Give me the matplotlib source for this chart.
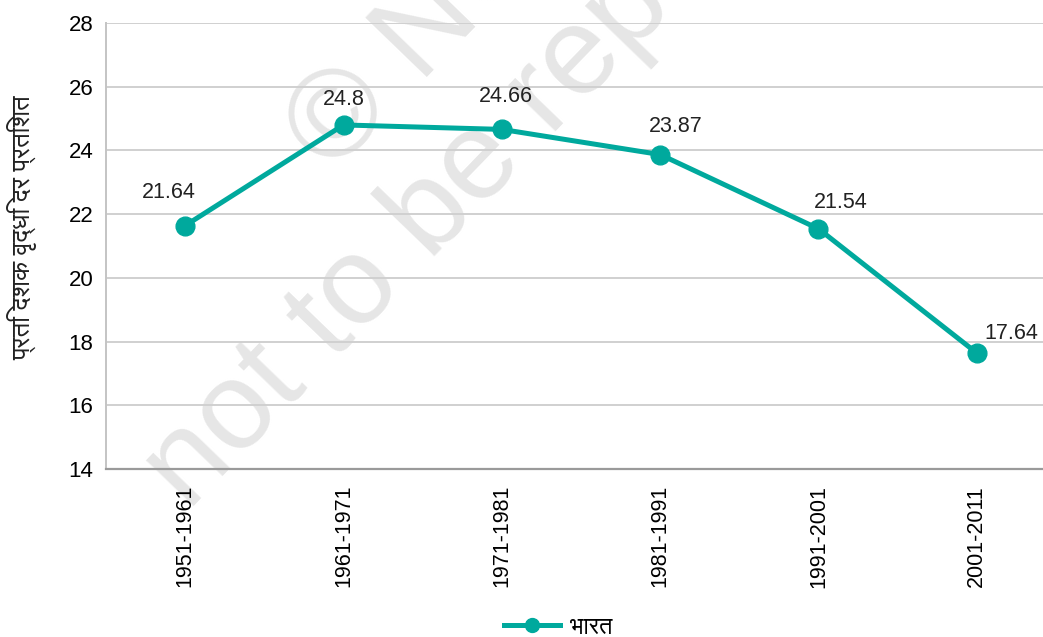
import os
import matplotlib
matplotlib.use("Agg")
import matplotlib.pyplot as plt
from matplotlib import font_manager
from matplotlib.font_manager import FontProperties
from matplotlib.lines import Line2D
from fontTools.ttLib import TTFont

# ---- data ----
periods = ["1951-1961", "1961-1971", "1971-1981", "1981-1991", "1991-2001", "2001-2011"]
growth = [21.64, 24.8, 24.66, 23.87, 21.54, 17.64]
y_ticks = [14, 16, 18, 20, 22, 24, 26, 28]
y_label = "प्रति दशक वृद्धि दर प्रतिशत"
series_name = "भारत"
watermark_1 = "© NCERT"
watermark_2 = "not to be republished"

# label offsets in points (dx, dy) -- style only
label_offsets = [(-12, 24), (0, 18), (3, 24), (11, 20), (16, 19), (25, 14)]

# ---- find a Devanagari font ----
deva = []
for f in font_manager.findSystemFonts():
    try:
        tt = TTFont(f, fontNumber=0, lazy=True)
        cmap = tt.getBestCmap()
        if cmap and 0x092A in cmap and 0x0943 in cmap:
            deva.append(f)
    except Exception:
        pass
prefs = ["FreeSans.ttf", "FreeSans.otf", "NotoSansDevanagari-Regular", "Hind-Regular",
         "Mukta-Regular", "Regular"]
deva_path = None
for p in prefs:
    for f in sorted(deva):
        if os.path.basename(f) == p or p in os.path.basename(f):
            deva_path = f
            break
    if deva_path:
        break
if deva_path is None and deva:
    deva_path = sorted(deva)[0]

plt.rcParams['font.family'] = ['Liberation Sans', 'DejaVu Sans']
teal = "#00a99d"
fs = 15.5

fig = plt.figure(figsize=(10.43, 6.37), dpi=100)

# watermark (behind everything)
for txt, x, y in [(watermark_1, 332 / 1043, 1 - 175 / 637), (watermark_2, 188 / 1043, 1 - 512 / 637)]:
    fig.text(x, y, txt, fontsize=90, color="#e6e6e6", rotation=46,
             rotation_mode="anchor", ha="left", va="baseline", zorder=-5,
             family=['Liberation Sans', 'DejaVu Sans'])

ax = fig.add_axes([106 / 1043, 1 - 469 / 637, 950 / 1043, 446 / 637])
ax.set_zorder(1)
ax.set_facecolor("none")
x = list(range(len(periods)))
ax.plot(x, growth, color=teal, lw=3.6, marker="o", ms=13.5, mec=teal, mfc=teal,
        solid_capstyle="round", zorder=3, clip_on=False)
ax.set_xlim(-0.5, 5.5)
ax.set_ylim(14, 28)
ax.set_yticks(y_ticks)
ax.set_xticks(x)
ax.set_xticklabels(periods, rotation=90, fontsize=fs)
ax.tick_params(axis="y", labelsize=16, length=0, pad=9)
ax.tick_params(axis="x", length=0, pad=11.5)
ax.grid(axis="y", color="#d0d0d0", lw=1.4)
ax.set_axisbelow(True)
for s in ["top", "right"]:
    ax.spines[s].set_visible(False)
ax.spines["left"].set_color("#c4c4c4")
ax.spines["left"].set_linewidth(1.4)
ax.spines["bottom"].set_color("#9a9a9a")
ax.spines["bottom"].set_linewidth(1.6)

for xi, v, (dx, dy) in zip(x, growth, label_offsets):
    ax.annotate(f"{v:g}", (xi, v), xytext=(dx, dy), textcoords="offset points",
                ha="center", va="center", fontsize=fs, color="#222222", zorder=4)

if deva_path:
    lab_fp = FontProperties(fname=deva_path, size=18.5)
    leg_fp = FontProperties(fname=deva_path, size=17)
else:
    lab_fp = FontProperties(family=['DejaVu Sans'], size=16)
    leg_fp = FontProperties(family=['DejaVu Sans'], size=15)

fig.text(22 / 1043, 1 - 228 / 637, y_label, rotation=90, ha="center", va="center",
         fontproperties=lab_fp, color="#222222")

# legend
handle = Line2D([], [], color=teal, lw=3.6, marker="o", ms=10, mfc=teal, mec=teal)
leg = fig.legend([handle], [series_name], loc="center", bbox_to_anchor=(558 / 1043, 1 - 627 / 637),
                 frameon=False, prop=leg_fp, handlelength=2.4, handletextpad=0.4)

fig.savefig("out.png", dpi=100)
